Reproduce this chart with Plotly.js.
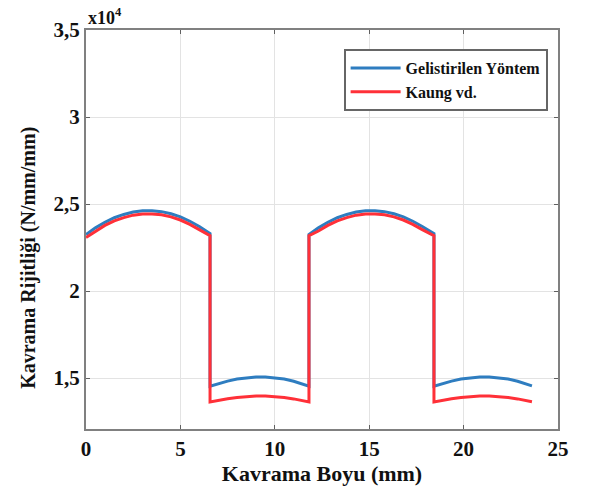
<!DOCTYPE html>
<html>
<head>
<meta charset="utf-8">
<script src="https://cdn.plot.ly/plotly-3.0.1.min.js"></script>
<style>html,body{margin:0;padding:0;background:#fff;}#chart{width:591px;height:491px;}</style>
</head>
<body>
<div id="chart"></div>
<script>
// Kavrama Boyu (mm)
const xVals = [
  0, 0.5, 1, 1.5, 2, 2.5, 3, 3.5, 4, 4.5, 5, 5.5, 6, 6.57,
  6.57, 7, 7.5, 8, 8.5, 9, 9.5, 10, 10.5, 11, 11.5, 11.81,
  11.81, 12.31, 12.81, 13.31, 13.81, 14.31, 14.81, 15.31, 15.81, 16.31, 16.81, 17.31, 17.81, 18.43,
  18.43, 18.86, 19.36, 19.86, 20.36, 20.86, 21.36, 21.86, 22.36, 22.86, 23.36, 23.62
];
// Gelistirilen Yöntem (x10^4 N/mm/mm)
const gelistirilen = [
  2.325, 2.363, 2.395, 2.421, 2.440, 2.454, 2.461, 2.461, 2.456, 2.444, 2.426, 2.401, 2.371, 2.330,
  1.453, 1.468, 1.482, 1.494, 1.502, 1.506, 1.506, 1.502, 1.494, 1.481, 1.465, 1.453,
  2.325, 2.363, 2.395, 2.421, 2.440, 2.454, 2.461, 2.461, 2.456, 2.444, 2.426, 2.401, 2.371, 2.330,
  1.453, 1.468, 1.482, 1.494, 1.502, 1.506, 1.506, 1.502, 1.494, 1.481, 1.465, 1.455
];
// Kaung vd. (x10^4 N/mm/mm)
const kaung = [
  2.308, 2.345, 2.377, 2.403, 2.422, 2.436, 2.443, 2.443, 2.438, 2.426, 2.408, 2.383, 2.353, 2.318,
  1.362, 1.372, 1.381, 1.388, 1.393, 1.396, 1.396, 1.393, 1.388, 1.380, 1.370, 1.362,
  2.318, 2.345, 2.377, 2.403, 2.422, 2.436, 2.443, 2.443, 2.438, 2.426, 2.408, 2.383, 2.353, 2.318,
  1.362, 1.372, 1.381, 1.388, 1.393, 1.396, 1.396, 1.393, 1.388, 1.380, 1.370, 1.364
];
const xTicks = [0, 5, 10, 15, 20, 25];
const xTickText = ['0', '5', '10', '15', '20', '25'];
const yTicks = [1.5, 2, 2.5, 3, 3.5];
const yTickText = ['1,5', '2', '2,5', '3', '3,5'];

const serif = 'Liberation Serif, Times New Roman, serif';
const traces = [
  {x: xVals, y: gelistirilen, mode: 'lines', name: 'Gelistirilen Yöntem',
   line: {color: '#2e7dc0', width: 3}},
  {x: xVals, y: kaung, mode: 'lines', name: 'Kaung vd.',
   line: {color: '#ff3038', width: 3}}
];
const axisCommon = {
  showgrid: true, gridcolor: '#e3e3e3', gridwidth: 1,
  showline: true, linecolor: '#808080', linewidth: 2, mirror: 'ticks',
  ticks: 'inside', ticklen: 4, tickcolor: '#606060', tickwidth: 1,
  zeroline: false,
  tickfont: {family: serif, size: 21, color: '#111', weight: 'bold'}
};
const layout = {
  width: 591, height: 491,
  margin: {l: 86, r: 33, t: 30, b: 62},
  paper_bgcolor: '#fff', plot_bgcolor: '#fff',
  showlegend: true,
  legend: {x: 0.978, xanchor: 'right', y: 0.952, yanchor: 'top',
    bgcolor: '#fff', bordercolor: '#666', borderwidth: 2,
    font: {family: serif, size: 16, color: '#111', weight: 'bold'},
    tracegroupgap: 0, itemwidth: 50},
  xaxis: Object.assign({}, axisCommon, {
    range: [0, 25], tickvals: xTicks, ticktext: xTickText,
    title: {text: 'Kavrama Boyu (mm)', standoff: 0,
      font: {family: serif, size: 22, color: '#111', weight: 'bold'}}
  }),
  yaxis: Object.assign({}, axisCommon, {
    range: [1.207, 3.5], tickvals: yTicks, ticktext: yTickText
  }),
  annotations: [{
    text: 'x10<sup>4</sup>', xref: 'paper', yref: 'paper', x: 0, y: 1,
    xanchor: 'left', yanchor: 'bottom', showarrow: false, yshift: 0,
    font: {family: serif, size: 18, color: '#111', weight: 'bold'}
  }, {
    text: 'Kavrama Rijitliği (N/mm/mm)', textangle: -90,
    xref: 'paper', yref: 'paper', x: -0.122, y: 0.43,
    xanchor: 'center', yanchor: 'middle', showarrow: false,
    font: {family: serif, size: 20, color: '#111', weight: 'bold'}
  }]
};
Plotly.newPlot('chart', traces, layout, {displayModeBar: false, staticPlot: true});
</script>
</body>
</html>
